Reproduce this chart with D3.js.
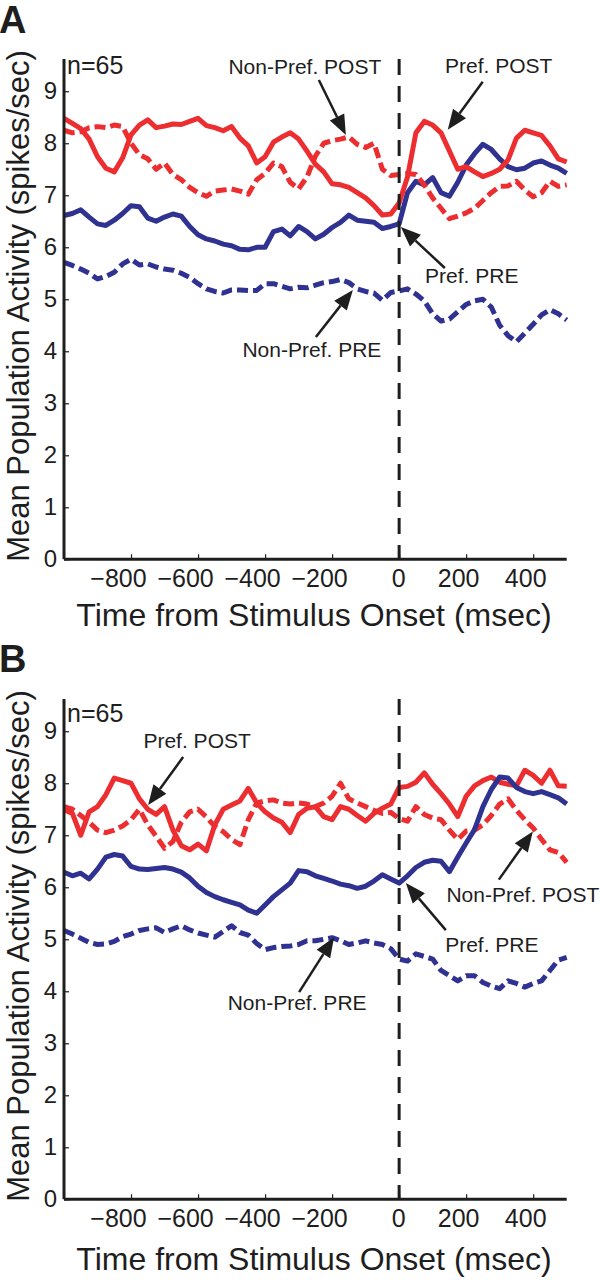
<!DOCTYPE html>
<html>
<head>
<meta charset="utf-8">
<script src="https://cdn.jsdelivr.net/npm/d3@7/dist/d3.min.js"></script>
<style>
  html, body { margin: 0; padding: 0; background: #fff; }
  svg { display: block; font-family: "Liberation Sans", Arial, Helvetica, sans-serif; }
</style>
</head>
<body>
<svg id="chart" width="600" height="1280"></svg>
<script>
// ---------- DATA ----------
const timeGrid = d3.range(-1000, 501, 25); // msec, sampling grid of the traces
const xTicks = [-800, -600, -400, -200, 0, 200, 400];
const yTicks = [0, 1, 2, 3, 4, 5, 6, 7, 8, 9];
const nLabel = "n=65";

// Panel A
const A_prefPost = [8.48,8.38,8.28,8.08,7.74,7.52,7.45,7.72,8.16,8.35,8.45,8.30,8.33,8.37,8.36,8.42,8.48,8.34,8.30,8.24,8.32,8.10,7.95,7.62,7.74,8.02,8.12,8.20,8.08,7.85,7.60,7.45,7.22,7.20,7.15,7.05,6.95,6.80,6.62,6.64,6.85,7.35,8.20,8.42,8.35,8.20,7.85,7.50,7.55,7.45,7.36,7.42,7.50,7.68,8.10,8.25,8.20,8.15,7.95,7.70,7.64];
const A_nonPrefPost = [8.25,8.20,8.22,8.30,8.32,8.30,8.35,8.32,8.00,7.78,7.70,7.50,7.62,7.40,7.30,7.15,7.05,6.98,7.08,7.10,7.12,7.08,7.02,7.30,7.42,7.62,7.55,7.25,7.12,7.35,7.75,8.00,8.05,8.08,8.12,7.98,7.92,8.00,7.50,7.38,7.40,7.42,7.40,7.20,6.95,6.75,6.55,6.60,6.66,6.75,6.90,7.05,7.17,7.18,7.27,7.10,6.97,7.05,7.27,7.17,7.20];
const A_prefPre = [6.61,6.65,6.72,6.58,6.45,6.42,6.52,6.65,6.80,6.78,6.56,6.50,6.58,6.64,6.60,6.40,6.24,6.16,6.12,6.06,6.03,5.96,5.95,6.00,6.00,6.30,6.35,6.22,6.40,6.30,6.16,6.25,6.38,6.48,6.62,6.52,6.50,6.48,6.36,6.40,6.45,7.05,7.27,7.20,7.34,7.05,6.98,7.25,7.58,7.80,7.98,7.88,7.70,7.55,7.49,7.52,7.62,7.66,7.58,7.52,7.42];
const A_nonPrefPre = [5.71,5.65,5.58,5.50,5.39,5.44,5.52,5.68,5.77,5.66,5.68,5.62,5.58,5.56,5.50,5.42,5.30,5.20,5.15,5.12,5.18,5.18,5.17,5.17,5.30,5.30,5.25,5.20,5.23,5.22,5.27,5.32,5.34,5.38,5.32,5.20,5.15,5.12,4.98,5.13,5.16,5.20,5.10,4.97,4.72,4.58,4.62,4.76,4.90,4.97,5.00,4.85,4.50,4.30,4.18,4.35,4.52,4.70,4.80,4.72,4.60];

// Panel B
const B_prefPost = [7.49,7.42,7.00,7.45,7.55,7.78,8.10,8.05,8.00,7.70,7.50,7.40,7.55,7.10,6.80,6.72,6.83,6.70,7.20,7.50,7.58,7.66,7.90,7.62,7.45,7.33,7.25,7.05,7.40,7.52,7.55,7.36,7.30,7.55,7.50,7.38,7.27,7.42,7.52,7.60,7.92,7.94,8.02,8.20,7.98,7.80,7.60,7.36,7.75,7.95,8.05,8.12,8.02,7.98,7.95,8.25,8.15,8.00,8.25,7.95,7.94];
const B_nonPrefPost = [7.55,7.50,7.38,7.25,7.10,7.05,7.10,7.18,7.30,7.50,7.20,6.98,6.75,6.88,7.25,7.45,7.50,7.35,7.17,7.07,6.92,6.82,7.30,7.62,7.66,7.68,7.62,7.60,7.62,7.60,7.55,7.62,7.75,8.00,7.70,7.62,7.55,7.48,7.42,7.44,7.32,7.27,7.55,7.40,7.33,7.30,7.10,6.92,7.08,7.10,7.20,7.38,7.60,7.70,7.48,7.30,7.14,6.92,6.72,6.67,6.48];
const B_prefPre = [6.29,6.22,6.27,6.16,6.35,6.58,6.63,6.60,6.40,6.35,6.34,6.36,6.38,6.35,6.29,6.18,6.02,5.90,5.82,5.76,5.71,5.66,5.56,5.50,5.66,5.82,5.95,6.08,6.32,6.30,6.22,6.17,6.12,6.06,6.03,5.98,6.02,6.12,6.24,6.16,6.08,6.22,6.38,6.48,6.52,6.50,6.30,6.58,6.85,7.11,7.55,7.88,8.12,8.10,7.92,7.84,7.80,7.84,7.78,7.72,7.60];
const B_nonPrefPre = [5.17,5.10,5.02,4.94,4.90,4.91,4.96,5.05,5.10,5.17,5.20,5.22,5.13,5.20,5.26,5.18,5.12,5.08,5.04,5.15,5.26,5.13,5.08,4.92,4.80,4.84,4.86,4.87,4.90,4.97,4.97,5.00,5.03,4.97,4.90,4.93,4.97,4.93,4.90,4.82,4.62,4.58,4.72,4.67,4.62,4.40,4.30,4.20,4.30,4.30,4.17,4.10,4.05,4.20,4.15,4.08,4.15,4.20,4.40,4.60,4.65];

// Annotation labels with the data point each arrow points at [msec, spikes/sec]
const A_labels = ["Non-Pref. POST", "Pref. POST", "Pref. PRE", "Non-Pref. PRE"];
const A_targets = [[-159, 8.16], [145, 8.26], [5, 6.39], [-138, 5.18]];
const B_labels = ["Pref. POST", "Non-Pref. POST", "Pref. PRE", "Non-Pref. PRE"];
const B_targets = [[-749, 7.58], [399, 7.07], [20, 6.08], [-194, 5.04]];

// ---------- LAYOUT / STYLE ----------
const RED = "#ec2e31", BLUE = "#2f3290", INK = "#1e1e1e";
const A_layout = { top: 0, letter: "A", letterY: 33, nY: 74, titleY: 626,
  ann: [ {tail:[-27,-55], text:[-41,-61]}, {tail:[35,-48], text:[51,-57]},
         {tail:[44,41], text:[71,56]}, {tail:[-37,47], text:[-41,67]} ] };
const B_layout = { top: 640, letter: "B", letterY: 672, nY: 722, titleY: 630,
  ann: [ {tail:[35,-48], text:[49,-57]}, {tail:[-34,48], text:[-10,70]},
         {tail:[40,47], text:[86,69]}, {tail:[-35,55], text:[-37,73]} ] };

const svg = d3.select("#chart");

function drawPanel(layout, series, labels, targets) {
  const g = svg.append("g").attr("transform", `translate(0,${layout.top})`);
  const x = d3.scaleLinear().domain([-1000, 500]).range([64, 566.7]);
  const y = d3.scaleLinear().domain([0, 9.62]).range([559.3, 59]);

  // panel letter
  g.append("text").attr("x", -1).attr("y", layout.letterY - layout.top)
    .attr("font-size", 38).attr("font-weight", "bold").attr("fill", INK)
    .text(layout.letter);

  // traces
  const line = d3.line().x((d, i) => x(timeGrid[i])).y(d => y(d)).curve(d3.curveLinear);
  series.forEach(s => {
    g.append("path").datum(s.values)
      .attr("d", line).attr("fill", "none")
      .attr("stroke", s.color).attr("stroke-width", 5)
      .attr("stroke-linejoin", "round")
      .attr("stroke-dasharray", s.dashed ? "11,5" : null);
  });

  // stimulus onset line
  g.append("line").attr("x1", x(0)).attr("x2", x(0))
    .attr("y1", 59).attr("y2", y(0))
    .attr("stroke", INK).attr("stroke-width", 3).attr("stroke-dasharray", "16,11");

  // axes
  const xAxis = d3.axisBottom(x).tickValues(xTicks).tickSize(-5).tickPadding(14).tickFormat(d3.format("d"));
  const gx = g.append("g").attr("transform", `translate(0,${y(0)})`).call(xAxis);
  gx.select(".domain").attr("stroke", INK).attr("stroke-width", 3).attr("d", `M${x(-1000)},0H${x(500)}`);
  gx.selectAll(".tick line").attr("stroke", INK).attr("stroke-width", 1.2);
  gx.selectAll(".tick text").attr("font-size", 25).attr("fill", INK)
    .attr("font-family", "Liberation Sans, Arial, sans-serif")
    .attr("dy", "0.71em").attr("y", 10)
    .attr("dx", d => d === 0 ? -1 : (d < 0 ? -13 : -8));

  const yAxis = d3.axisLeft(y).tickValues(yTicks).tickSize(-5).tickPadding(7);
  const gy = g.append("g").attr("transform", `translate(${x(-1000)},0)`).call(yAxis);
  gy.select(".domain").attr("stroke", INK).attr("stroke-width", 3).attr("d", `M0,${y(9.62)}V${y(0)}`);
  gy.selectAll(".tick line").attr("stroke", INK).attr("stroke-width", 1.2);
  gy.selectAll(".tick text").attr("font-size", 24).attr("fill", INK)
    .attr("font-family", "Liberation Sans, Arial, sans-serif");

  // axis titles
  g.append("text").attr("x", 314).attr("y", layout.titleY).attr("text-anchor", "middle")
    .attr("font-size", 32).attr("fill", INK).text("Time from Stimulus Onset (msec)");
  g.append("text").attr("transform", "translate(29,306) rotate(-90)").attr("text-anchor", "middle")
    .attr("font-size", 31).attr("fill", INK).text("Mean Population Activity (spikes/sec)");

  // n label
  g.append("text").attr("x", 67).attr("y", layout.nY - layout.top)
    .attr("font-size", 25).attr("fill", INK).text(nLabel);

  // annotations
  labels.forEach((lab, i) => {
    const tip = [x(targets[i][0]), y(targets[i][1])];
    const a = layout.ann[i];
    const tail = [tip[0] + a.tail[0], tip[1] + a.tail[1]];
    const dx = tip[0] - tail[0], dy = tip[1] - tail[1];
    const len = Math.hypot(dx, dy), ux = dx / len, uy = dy / len;
    const hl = 20, hw = 8;
    const base = [tip[0] - ux * hl, tip[1] - uy * hl];
    g.append("line").attr("x1", tail[0]).attr("y1", tail[1]).attr("x2", base[0]).attr("y2", base[1])
      .attr("stroke", INK).attr("stroke-width", 2.5);
    g.append("path").attr("fill", INK)
      .attr("d", `M${tip[0]},${tip[1]}L${base[0] - uy * hw},${base[1] + ux * hw}L${base[0] + uy * hw},${base[1] - ux * hw}Z`);
    g.append("text").attr("x", tip[0] + a.text[0]).attr("y", tip[1] + a.text[1])
      .attr("text-anchor", "middle").attr("font-size", 21).attr("fill", INK).text(lab);
  });
}

drawPanel(A_layout, [
  { values: A_nonPrefPre, color: BLUE, dashed: true },
  { values: A_prefPre, color: BLUE, dashed: false },
  { values: A_nonPrefPost, color: RED, dashed: true },
  { values: A_prefPost, color: RED, dashed: false }
], A_labels, A_targets);

drawPanel(B_layout, [
  { values: B_nonPrefPre, color: BLUE, dashed: true },
  { values: B_nonPrefPost, color: RED, dashed: true },
  { values: B_prefPost, color: RED, dashed: false },
  { values: B_prefPre, color: BLUE, dashed: false }
], B_labels, B_targets);
</script>
</body>
</html>
